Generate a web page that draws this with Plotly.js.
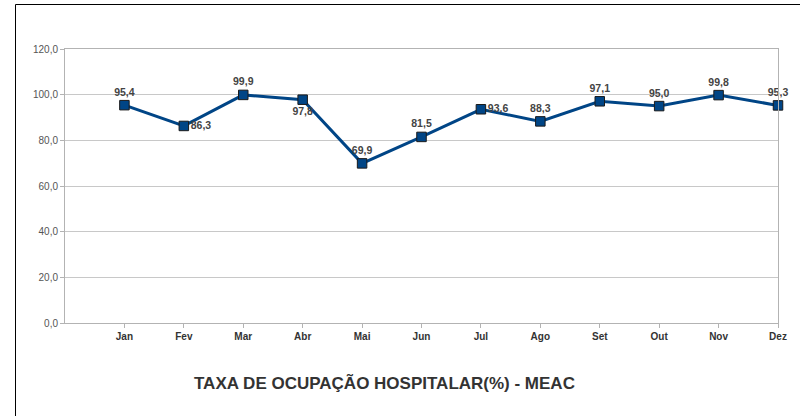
<!DOCTYPE html>
<html><head><meta charset="utf-8">
<script src="https://cdn.plot.ly/plotly-3.0.1.min.js"></script>
<style>html,body{margin:0;padding:0;background:#fff;}#chart{width:800px;height:416px;}</style>
</head><body><div id="chart"></div>
<script>
const months = ['Jan','Fev','Mar','Abr','Mai','Jun','Jul','Ago','Set','Out','Nov','Dez'];
const values = [95.4, 86.3, 99.9, 97.8, 69.9, 81.5, 93.6, 88.3, 97.1, 95.0, 99.8, 95.3];
const labelPos = ['top center','middle right','top center','bottom center','top center','top center','middle right','top center','top center','top center','top center','top center'];
const yTicks = [0,20,40,60,80,100,120];
const chartTitle = 'TAXA DE OCUPAÇÃO HOSPITALAR(%) - MEAC';

const xpos = months.map((m,i)=>i+1);
const labels = values.map(v=>v.toFixed(1).replace('.',','));

const trace = {
  x: xpos, y: values, type:'scatter', mode:'lines+markers+text',
  line:{color:'#004586', width:3},
  marker:{symbol:'square', size:9.5, color:'#004586', line:{color:'#1a1a1a', width:1}},
  text: labels, textposition: labelPos,
  textfont:{family:'Liberation Sans, Arial, sans-serif', size:10.5, color:'#444444', weight:'bold'},
  cliponaxis:false, hoverinfo:'skip'
};

const layout = {
  width:800, height:416,
  margin:{l:65, r:22, t:49, b:93},
  paper_bgcolor:'#ffffff', plot_bgcolor:'#ffffff',
  showlegend:false,
  separators:',.',
  font:{family:'Liberation Sans, Arial, sans-serif'},
  xaxis:{range:[0,12], tickvals:xpos, ticktext:months, showgrid:false, zeroline:false,
    showline:true, linecolor:'#b3b3b3', linewidth:1, mirror:true,
    ticks:'outside', ticklen:4, tickcolor:'#b3b3b3',
    tickfont:{size:10, color:'#333333', weight:'bold'}},
  yaxis:{range:[0,120], tickvals:yTicks, tickformat:'.1f', showgrid:true, gridcolor:'#c8c8c8', gridwidth:1,
    zeroline:false, showline:true, linecolor:'#b3b3b3', linewidth:1, mirror:true,
    ticks:'outside', ticklen:4, tickcolor:'#b3b3b3',
    tickfont:{size:10, color:'#555555'}},
  shapes:[{type:'rect', xref:'paper', yref:'paper', x0:(15.5-65)/713, x1:1.2, y0:-1, y1:(323-4.5)/274,
    line:{color:'#000000', width:1}, fillcolor:'rgba(0,0,0,0)', layer:'below'}],
  annotations:[{text:chartTitle, xref:'paper', yref:'paper', x:(384-65)/713, y:(323-383)/274,
    xanchor:'center', yanchor:'middle', showarrow:false,
    font:{size:17, color:'#333333', weight:'bold', family:'Liberation Sans, Arial, sans-serif'}}]
};
Plotly.newPlot('chart',[trace],layout,{staticPlot:true});
</script></body></html>
